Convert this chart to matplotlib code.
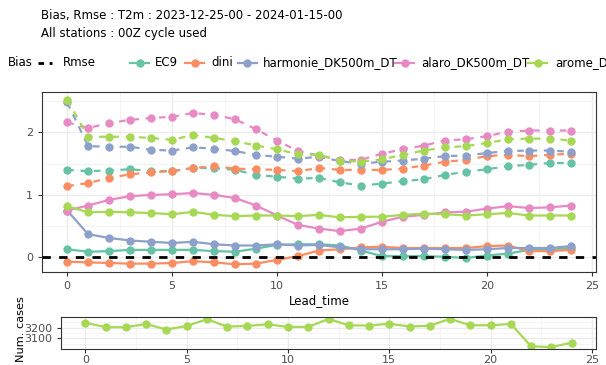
import matplotlib
matplotlib.use("Agg")
from matplotlib import pyplot as plt

W, H = 606, 365

lead_time = list(range(25))

models = ['EC9', 'dini', 'harmonie_DK500m_DT', 'alaro_DK500m_DT', 'arome_DK500m_DT']
colors = ['#66C2A5', '#FC8D62', '#8DA0CB', '#E78AC3', '#A6D854']

rmse_ec9 = [1.40, 1.38, 1.39, 1.41, 1.38, 1.38, 1.43, 1.43, 1.40, 1.32, 1.29, 1.26, 1.27,
            1.20, 1.15, 1.18, 1.22, 1.25, 1.32, 1.37, 1.41, 1.46, 1.48, 1.51, 1.51]
rmse_dini = [1.14, 1.19, 1.27, 1.33, 1.36, 1.38, 1.43, 1.46, 1.42, 1.41, 1.40, 1.38, 1.43,
             1.40, 1.40, 1.40, 1.42, 1.47, 1.53, 1.56, 1.62, 1.64, 1.62, 1.64, 1.66]
rmse_harmonie = [2.48, 1.78, 1.77, 1.77, 1.72, 1.71, 1.76, 1.74, 1.70, 1.64, 1.61, 1.58, 1.61,
                 1.54, 1.50, 1.53, 1.55, 1.58, 1.62, 1.63, 1.67, 1.70, 1.71, 1.71, 1.69]
rmse_alaro = [2.16, 2.07, 2.15, 2.20, 2.23, 2.25, 2.31, 2.28, 2.21, 2.05, 1.87, 1.70, 1.63,
              1.56, 1.56, 1.66, 1.73, 1.79, 1.87, 1.89, 1.94, 2.01, 2.03, 2.03, 2.03]
rmse_arome = [2.52, 1.93, 1.93, 1.93, 1.91, 1.88, 1.96, 1.91, 1.86, 1.79, 1.73, 1.65, 1.64,
              1.55, 1.53, 1.57, 1.64, 1.71, 1.76, 1.78, 1.83, 1.89, 1.90, 1.90, 1.87]

bias_ec9 = [0.13, 0.09, 0.10, 0.12, 0.12, 0.12, 0.12, 0.10, 0.09, 0.14, 0.20, 0.21, 0.21,
            0.19, 0.11, 0.02, 0.02, 0.02, 0.01, -0.01, 0.03, 0.06, 0.12, 0.12, 0.15]
bias_dini = [-0.07, -0.08, -0.09, -0.10, -0.10, -0.09, -0.06, -0.08, -0.11, -0.10, -0.04, 0.02, 0.11,
             0.13, 0.16, 0.17, 0.15, 0.15, 0.15, 0.15, 0.18, 0.19, 0.10, 0.10, 0.12]
bias_harmonie = [0.75, 0.37, 0.31, 0.27, 0.25, 0.23, 0.25, 0.21, 0.19, 0.19, 0.21, 0.19, 0.20,
                 0.16, 0.13, 0.13, 0.13, 0.14, 0.13, 0.12, 0.13, 0.15, 0.15, 0.15, 0.18]
bias_alaro = [0.75, 0.83, 0.92, 0.98, 1.00, 1.01, 1.03, 1.00, 0.95, 0.83, 0.67, 0.52, 0.46,
              0.42, 0.46, 0.57, 0.65, 0.68, 0.72, 0.73, 0.78, 0.82, 0.79, 0.80, 0.83]
bias_arome = [0.82, 0.72, 0.73, 0.72, 0.71, 0.69, 0.73, 0.68, 0.66, 0.67, 0.67, 0.66, 0.68,
              0.64, 0.65, 0.65, 0.68, 0.70, 0.69, 0.67, 0.69, 0.71, 0.67, 0.67, 0.67]

num_cases = [3245, 3203, 3203, 3233, 3182, 3215, 3276, 3209, 3215, 3230, 3206, 3206, 3279,
             3221, 3218, 3236, 3209, 3218, 3279, 3221, 3221, 3233, 3027, 3021, 3061]

rmse_all = [rmse_ec9, rmse_dini, rmse_harmonie, rmse_alaro, rmse_arome]
bias_all = [bias_ec9, bias_dini, bias_harmonie, bias_alaro, bias_arome]

plt.rcParams['font.family'] = 'DejaVu Sans'

fig = plt.figure(figsize=(W / 100, H / 100), dpi=100)


def px_axes(left, top, right, bottom):
    return fig.add_axes([left / W, 1 - bottom / H, (right - left) / W, (bottom - top) / H])


def style(ax):
    ax.set_facecolor('white')
    for s in ax.spines.values():
        s.set_color('#333333')
        s.set_linewidth(0.8)
    ax.grid(which='major', color='#EBEBEB', linewidth=1.0)
    ax.grid(which='minor', color='#F2F2F2', linewidth=0.6)
    ax.set_axisbelow(True)
    ax.tick_params(which='major', length=3, color='#333333', labelcolor='#4D4D4D', labelsize=8)
    ax.tick_params(which='minor', length=0)


# main panel
ax = px_axes(42, 92, 596, 272)
style(ax)
for vals, c in zip(rmse_all, colors):
    ax.plot(lead_time, vals, color=c, lw=1.6, ls=(0, (3, 3)), marker='o', ms=5, zorder=3)
for vals, c in zip(bias_all, colors):
    ax.plot(lead_time, vals, color=c, lw=1.6, ls='-', marker='o', ms=5, zorder=3)
ax.axhline(0, color='black', lw=2, ls=(0, (3, 3)), zorder=4)
ax.set_xlim(-1.2, 25.2)
ax.set_ylim(-0.234, 2.646)
ax.set_xticks([0, 5, 10, 15, 20, 25])
ax.set_xticks([2.5, 7.5, 12.5, 17.5, 22.5], minor=True)
ax.set_yticks([0, 1, 2])
ax.set_yticks([0.5, 1.5, 2.5], minor=True)
ax.set_xlabel('Lead_time', fontsize=8.5, labelpad=2)

# num cases panel
ax2 = px_axes(61, 317, 596, 349)
style(ax2)
ax2.plot(lead_time, num_cases, color=colors[4], lw=1.6, marker='o', ms=5)
ax2.set_xlim(-1.2, 25.2)
ax2.set_ylim(3003, 3297)
ax2.set_xticks([0, 5, 10, 15, 20, 25])
ax2.set_xticks([2.5, 7.5, 12.5, 17.5, 22.5], minor=True)
ax2.set_yticks([3100, 3200])
ax2.set_yticks([3050, 3150, 3250], minor=True)
ax2.tick_params(axis='x', pad=1)
ax2.set_ylabel('Num. cases', fontsize=8.2)
ax2.yaxis.set_label_coords(-0.066, 0.62)

# titles
fig.text(41 / W, 1 - 15 / H, 'Bias, Rmse : T2m : 2023-12-25-00 - 2024-01-15-00',
         fontsize=8.5, va='center', ha='left')
fig.text(41 / W, 1 - 33 / H, 'All stations : 00Z cycle used',
         fontsize=8.5, va='center', ha='left')

# legend drawn by hand (runs off the right edge like the original)
ly = 1 - 63 / H
fig.text(8 / W, ly, 'Bias', fontsize=8.5, va='center', ha='left')
fig.add_artist(plt.Line2D([38 / W, 52 / W], [ly, ly], color='black', lw=2,
                          ls=(0, (2, 2)), transform=fig.transFigure))
fig.text(63 / W, ly, 'Rmse', fontsize=8.5, va='center', ha='left')
line_x = [130, 185, 238, 395, 528]
text_x = [155, 211, 263, 421, 555]
for name, c, x0, tx in zip(models, colors, line_x, text_x):
    fig.add_artist(plt.Line2D([x0 / W, (x0 + 19) / W], [ly, ly], color=c, lw=1.6,
                              transform=fig.transFigure))
    fig.add_artist(plt.Line2D([(x0 + 9.5) / W], [ly], color=c, marker='o', ms=5,
                              transform=fig.transFigure))
    fig.text(tx / W, ly, name, fontsize=8.5, va='center', ha='left')

fig.savefig('out.png', dpi=100)
